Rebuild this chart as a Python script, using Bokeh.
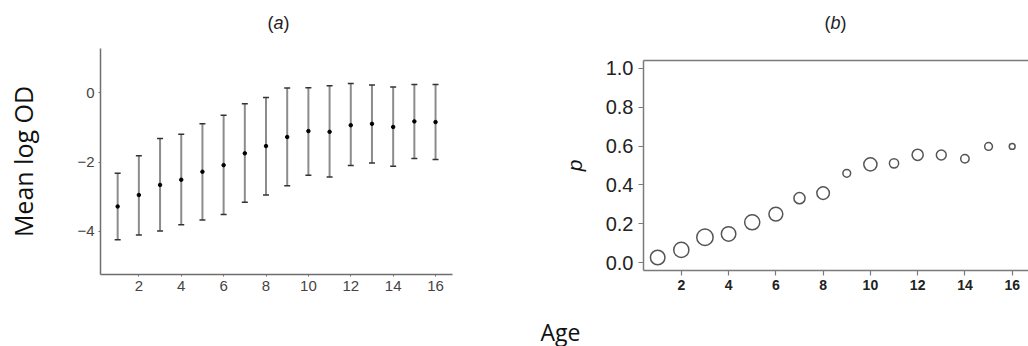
from bokeh.plotting import figure
from bokeh.layouts import row, column
from bokeh.models import Label, FixedTicker, LinearAxis, PrintfTickFormatter, Range1d, ColumnDataSource
from bokeh.embed import file_html
from bokeh.resources import INLINE

# ---------------- data ----------------
age = list(range(1, 17))
mean_log_od = [-3.28, -2.95, -2.66, -2.51, -2.28, -2.09, -1.75, -1.54,
               -1.28, -1.11, -1.13, -0.94, -0.90, -0.99, -0.83, -0.85]
upper_log_od = [-2.32, -1.82, -1.32, -1.20, -0.90, -0.65, -0.32, -0.14,
                0.13, 0.14, 0.20, 0.26, 0.22, 0.16, 0.23, 0.23]
lower_log_od = [-4.24, -4.10, -3.99, -3.81, -3.67, -3.51, -3.16, -2.95,
                -2.68, -2.38, -2.43, -2.10, -2.03, -2.12, -1.90, -1.93]
p_value = [0.027, 0.066, 0.131, 0.148, 0.208, 0.250, 0.332, 0.358,
           0.460, 0.506, 0.511, 0.555, 0.554, 0.535, 0.598, 0.598]
rel_n = [1.00, 1.04, 1.12, 1.00, 1.04, 0.96, 0.79, 0.88,
         0.58, 0.92, 0.67, 0.79, 0.71, 0.62, 0.58, 0.46]
x_ticks = [2, 4, 6, 8, 10, 12, 14, 16]
y_ticks_a = [-4, -2, 0]
y_ticks_b = [0.0, 0.2, 0.4, 0.6, 0.8, 1.0]

SANS = "Liberation Sans"


def text_strip(width, height):
    """A bare figure (no axes) whose frame fills the canvas, for headings / shared labels."""
    f = figure(width=width, height=height, output_backend="svg", toolbar_location=None,
               x_range=Range1d(0, width), y_range=Range1d(0, height),
               x_axis_location=None, y_axis_location=None,
               min_border_left=0, min_border_right=0, min_border_top=0, min_border_bottom=0)
    f.frame_align = False
    f.outline_line_color = None
    f.xgrid.visible = False
    f.ygrid.visible = False
    return f


def heading(f, letter, x, y):
    common = dict(x=x, y=y, text_baseline="middle", text_font=SANS,
                  text_font_size="18px", text_color="#222222")
    f.add_layout(Label(x_offset=-5, text="(", text_align="right", **common))
    f.add_layout(Label(text=letter, text_align="center", text_font_style="italic", **common))
    f.add_layout(Label(x_offset=5, text=")", text_align="left", **common))


# ---------------- panel (a) ----------------
ta = text_strip(500, 40)
heading(ta, "a", 278, 18)

fa = figure(width=500, height=306, output_backend="svg", toolbar_location=None,
            x_range=Range1d(0.19, 16.8), y_range=Range1d(-5.24, 1.27),
            min_border_left=100, min_border_right=48, min_border_top=8, min_border_bottom=72)
fa.frame_align = False
fa.outline_line_color = None
fa.xgrid.visible = False
fa.ygrid.visible = False

src_a = ColumnDataSource(dict(age=age, m=mean_log_od, hi=upper_log_od, lo=lower_log_od))
fa.segment(x0="age", y0="lo", x1="age", y1="hi", source=src_a, line_color="#8c8c8c", line_width=2)
fa.scatter(x="age", y="hi", source=src_a, marker="dash", size=6, line_color="#333333", line_width=1.5)
fa.scatter(x="age", y="lo", source=src_a, marker="dash", size=6, line_color="#333333", line_width=1.5)
fa.scatter(x="age", y="m", source=src_a, marker="circle", size=3.5, fill_color="black", line_color="black")

for ax in (fa.xaxis[0], fa.yaxis[0]):
    ax.axis_line_color = "#6e6e6e"
    ax.axis_line_width = 1.5
    ax.major_tick_line_color = "#6e6e6e"
    ax.major_tick_out = 2
    ax.major_tick_in = 0
    ax.minor_tick_line_color = None
    ax.major_label_text_font = SANS
    ax.major_label_text_font_size = "15px"
    ax.major_label_text_color = "#444444"
    ax.major_label_standoff = 4
fa.xaxis.ticker = FixedTicker(ticks=x_ticks)
fa.yaxis.ticker = FixedTicker(ticks=y_ticks_a)
fa.yaxis.axis_label = "Mean log OD"
fa.yaxis.axis_label_text_font = "Open Sans"
fa.yaxis.axis_label_text_font_size = "25px"
fa.yaxis.axis_label_text_font_style = "normal"
fa.yaxis.axis_label_text_color = "#111111"
fa.yaxis.axis_label_standoff = 34

# ---------------- panel (b) ----------------
tb = text_strip(528, 40)
heading(tb, "b", 335, 18)

fb = figure(width=528, height=260, output_backend="svg", toolbar_location=None,
            x_range=Range1d(0.4, 16.69), y_range=Range1d(-0.04, 1.04),
            min_border_left=143, min_border_right=0, min_border_top=20, min_border_bottom=30)
fb.frame_align = False
fb.outline_line_color = None
fb.xgrid.visible = False
fb.ygrid.visible = False

src_b = ColumnDataSource(dict(age=age, p=p_value, s=[16 * w - 1.5 for w in rel_n]))
fb.scatter(x="age", y="p", size="s", source=src_b, marker="circle",
           fill_color=None, line_color="#555555", line_width=1.5)

for ax in (fb.xaxis[0], fb.yaxis[0]):
    ax.axis_line_color = "#7a7a7a"
    ax.axis_line_width = 1.5
    ax.major_tick_line_color = "#7a7a7a"
    ax.major_tick_line_width = 1.2
    ax.major_tick_out = 5
    ax.major_tick_in = 0
    ax.minor_tick_line_color = None
    ax.major_label_text_font = SANS
    ax.major_label_text_color = "#222222"
fb.xaxis.ticker = FixedTicker(ticks=x_ticks)
fb.xaxis.major_label_text_font_size = "14px"
fb.xaxis.major_label_text_font_style = "bold"
fb.xaxis.major_label_standoff = 4
fb.yaxis.ticker = FixedTicker(ticks=y_ticks_b)
fb.yaxis.formatter = PrintfTickFormatter(format="%.1f")
fb.yaxis.major_label_text_font_size = "20px"
fb.yaxis.major_label_standoff = 5
fb.yaxis.axis_label = "p"
fb.yaxis.axis_label_text_font = SANS
fb.yaxis.axis_label_text_font_size = "21px"
fb.yaxis.axis_label_text_font_style = "italic"
fb.yaxis.axis_label_text_color = "#111111"
fb.yaxis.axis_label_standoff = 17

top_axis = LinearAxis(ticker=FixedTicker(ticks=[]), axis_line_color="#7a7a7a", axis_line_width=1.5,
                      major_label_text_font_size="0px", minor_tick_line_color=None,
                      major_tick_line_color=None)
fb.add_layout(top_axis, "above")

# ---------------- shared x label ----------------
fx = text_strip(528, 46)
fx.add_layout(Label(x=60, y=15, text="Age", text_align="center", text_baseline="middle",
                    text_font="Open Sans", text_font_size="23px", text_color="#111111"))

layout = row(column(ta, fa), column(tb, fb, fx))
open("out.html", "w").write(file_html(layout, INLINE))
